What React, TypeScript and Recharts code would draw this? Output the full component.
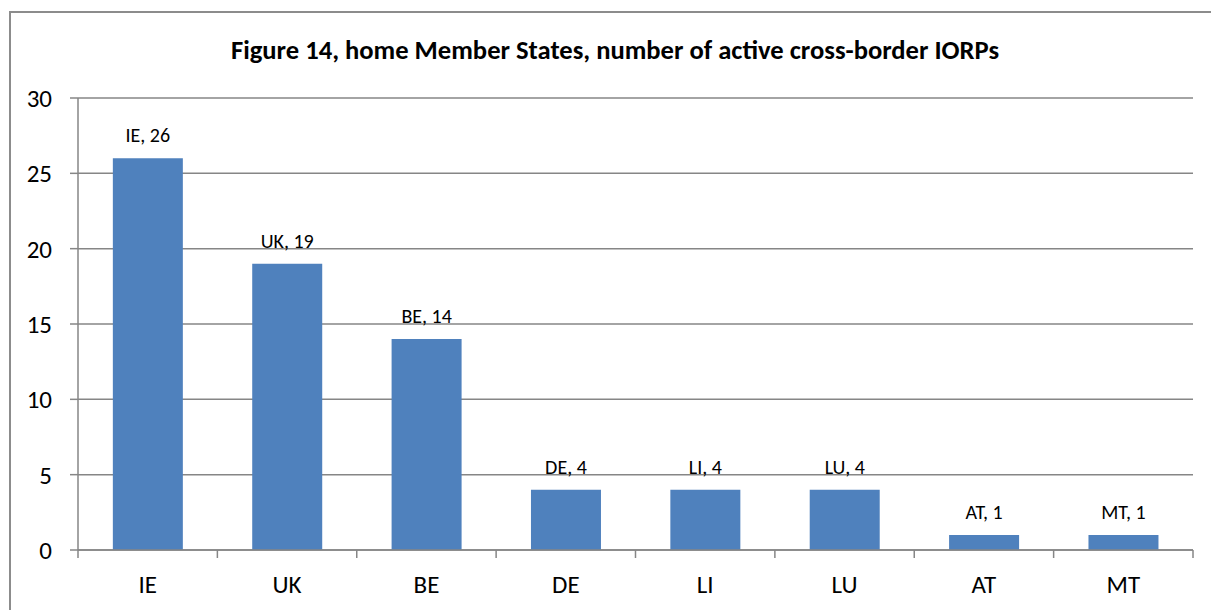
import React from 'react';
import { BarChart, Bar, XAxis, YAxis, CartesianGrid, LabelList } from 'recharts';

const categories = ['IE', 'UK', 'BE', 'DE', 'LI', 'LU', 'AT', 'MT'];
const values = [26, 19, 14, 4, 4, 4, 1, 1];
const yTicks = [0, 5, 10, 15, 20, 25, 30];
const title = 'Figure 14, home Member States, number of active cross-border IORPs';

const data = categories.map((c, i) => ({ name: c, value: values[i] }));

const FONT = "Carlito, 'Open Sans', sans-serif";
const GRAY = '#868686';

const XTick = (props: any) => {
  const { x, y, payload, index, width, visibleTicksCount } = props;
  const step = width / visibleTicksCount;
  const axisY = y - 8;
  return (
    <g>
      <line x1={x - step / 2} x2={x - step / 2} y1={axisY} y2={axisY + 8} stroke={GRAY} strokeWidth={1.5} />
      {index === visibleTicksCount - 1 && (
        <line x1={x + step / 2} x2={x + step / 2} y1={axisY} y2={axisY + 8} stroke={GRAY} strokeWidth={1.5} />
      )}
      <text x={x} y={axisY + 43} textAnchor="middle" fontSize={25} fill="#000" fontFamily={FONT}>
        {payload.value}
      </text>
    </g>
  );
};

export default function App() {
  return (
    <div style={{ position: 'absolute', left: 0, top: 0, width: 1211, height: 610, overflow: 'hidden', background: '#fff' }}>
      <div style={{ position: 'absolute', left: 9, top: 11, width: 1240, height: 640, border: '2px solid #8c8c8c', boxSizing: 'border-box' }} />
      <div style={{ position: 'absolute', left: 0, top: 34, width: 1230, textAlign: 'center', fontFamily: FONT, fontWeight: 'bold', fontSize: 26.6, lineHeight: '32px', color: '#000' }}>
        {title}
      </div>
      <div style={{ position: 'absolute', left: 0, top: 0 }}>
        <BarChart width={1211} height={610} data={data} margin={{ top: 98, right: 18, bottom: 0, left: 0 }} barCategoryGap="25%">
          <CartesianGrid vertical={false} stroke={GRAY} strokeWidth={1.5} />
          <XAxis dataKey="name" height={60} axisLine={{ stroke: GRAY, strokeWidth: 1.5 }} tickLine={false} tick={<XTick />} interval={0} />
          <YAxis width={78} domain={[0, 30]} ticks={yTicks} axisLine={{ stroke: GRAY, strokeWidth: 1.5 }} tickLine={{ stroke: GRAY, strokeWidth: 1.5 }} tickSize={8} tickMargin={18} tick={{ fontSize: 25, fill: '#000', fontFamily: FONT }} />
          <Bar dataKey="value" fill="#4F81BD" isAnimationActive={false}>
            <LabelList dataKey="value" position="top"
              content={(p: any) => {
                const { x, y, width, index } = p;
                return (
                  <text x={x + width / 2} y={y - 16} textAnchor="middle" fontSize={20} fill="#000" fontFamily={FONT}>
                    {`${categories[index]}, ${values[index]}`}
                  </text>
                );
              }}
            />
          </Bar>
        </BarChart>
      </div>
    </div>
  );
}
